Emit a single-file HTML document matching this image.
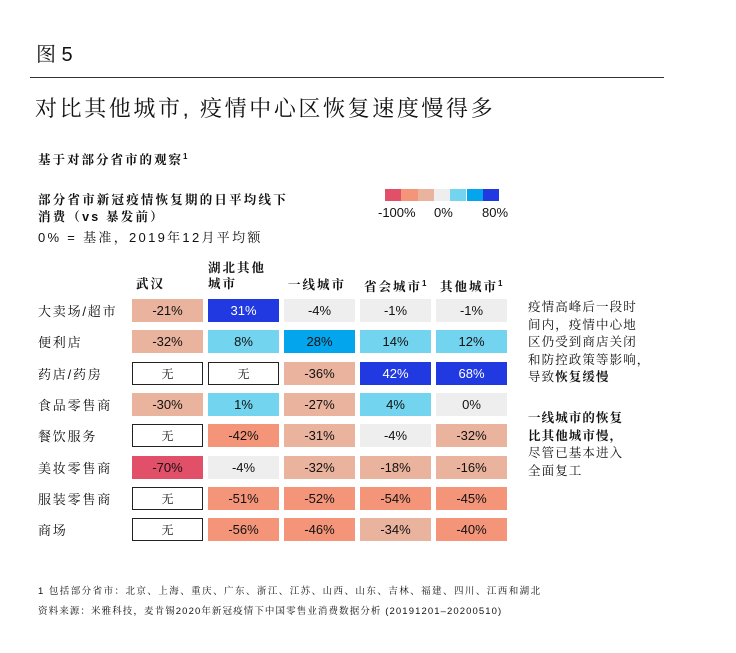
<!DOCTYPE html>
<html><head><meta charset="utf-8">
<style>
body{margin:0;background:#fff;width:736px;height:653px;position:relative;overflow:hidden;font-family:"Liberation Sans","Noto Serif CJK SC",serif;color:#111}
.a{position:absolute;white-space:nowrap}
.b{font-weight:bold}
.cell{position:absolute;width:71px;height:23px;line-height:23px;text-align:center;font-size:13px;font-family:"Liberation Sans","Noto Sans CJK SC",sans-serif}
.rl{position:absolute;font-size:13px;left:38px;letter-spacing:1.8px}
.ch{position:absolute;font-size:12.5px;font-weight:bold;line-height:16px;letter-spacing:2px}
.note{font-size:12.5px;line-height:17.5px;left:528px;letter-spacing:1.1px}
sup{font-size:8px;letter-spacing:0}
</style></head><body>
<div class="a" style="left:36px;top:38px;font-size:20px">图 5</div>
<div class="a" style="left:30px;top:77px;width:634px;height:1px;background:#333"></div>
<div class="a" style="left:35px;top:92px;font-size:22px;letter-spacing:2.6px">对比其他城市, 疫情中心区恢复速度慢得多</div>
<div class="a b" style="left:38px;top:150px;font-size:12.5px;letter-spacing:2px">基于对部分省市的观察<sup>1</sup></div>
<div class="a b" style="left:38px;top:192px;font-size:12.5px;line-height:17px;letter-spacing:2.2px">部分省市新冠疫情恢复期的日平均线下<br>消费（vs 暴发前）</div>
<div class="a" style="left:38px;top:227px;font-size:13px;letter-spacing:2.3px">0% = 基准，2019年12月平均额</div>
<div id="legend"></div>
<div class="a" style="left:378px;top:205px;font-size:13px">-100%</div>
<div class="a" style="left:434px;top:205px;font-size:13px">0%</div>
<div class="a" style="left:482px;top:205px;font-size:13px">80%</div>
<div id="grid"></div>
<div class="a note" style="top:299px">疫情高峰后一段时<br>间内，疫情中心地<br>区仍受到商店关闭<br>和防控政策等影响，<br>导致<b>恢复缓慢</b></div>
<div class="a note" style="top:410px"><b>一线城市的恢复<br>比其他城市慢，</b><br>尽管已基本进入<br>全面复工</div>
<div class="a" style="left:38px;top:583px;font-size:9.5px;letter-spacing:1.45px">1 包括部分省市：北京、上海、重庆、广东、浙江、江苏、山西、山东、吉林、福建、四川、江西和湖北</div>
<div class="a" style="left:38px;top:603px;font-size:9.5px;letter-spacing:1.1px">资料来源：米雅科技，麦肯锡2020年新冠疫情下中国零售业消费数据分析 (20191201–20200510)</div>
<script>
const columns=["武汉","湖北其他<br>城市","一线城市","省会城市<sup>1</sup>","其他城市<sup>1</sup>"];
const rows=["大卖场/超市","便利店","药店/药房","食品零售商","餐饮服务","美妆零售商","服装零售商","商场"];
const wuhan=[-21,-32,null,-30,null,-70,null,null];
const hubei=[31,8,null,1,-42,-4,-51,-56];
const tier1=[-4,28,-36,-27,-31,-32,-52,-46];
const capital=[-1,14,42,4,-4,-18,-54,-34];
const other=[-1,12,68,0,-32,-16,-45,-40];
const legendColors=["#e24f68","#f4957a","#e9b39d","#eeeeee","#73d4ef","#03a6ec","#2139e0"];
function color(v){if(v<=-60)return legendColors[0];if(v<=-40)return legendColors[1];if(v<=-10)return legendColors[2];if(v<=0)return legendColors[3];if(v<=20)return legendColors[4];if(v<=30)return legendColors[5];return legendColors[6];}
const lg=document.getElementById('legend');
legendColors.forEach((c,i)=>{const d=document.createElement('div');


d.style.cssText=`position:absolute;left:${385+i*16.3}px;top:189px;width:16.3px;height:12px;background:${c}`;lg.appendChild(d);});
const g=document.getElementById('grid');
const series=[wuhan,hubei,tier1,capital,other];
const x0=132,dx=76,y0=299,dy=31.3;
columns.forEach((c,j)=>{const h=document.createElement('div');h.className='ch';


h.style.left=(x0+dx*j+(j==1?0:4))+'px';h.style.top=(j==1?260:j==2?277:276)+'px';h.innerHTML=c;g.appendChild(h);});
rows.forEach((r,i)=>{const l=document.createElement('div');l.className='rl';


l.style.top=(y0+dy*i+2)+'px';l.textContent=r;g.appendChild(l);
series.forEach((s,j)=>{const v=s[i];const d=document.createElement('div');d.className='cell';


d.style.left=(x0+dx*j)+'px';d.style.top=(y0+dy*i)+'px';
if(v===null){d.style.border='1px solid #222';d.style.width='69px';d.style.height='21px';d.style.lineHeight='21px';d.style.fontFamily='"Noto Serif CJK SC",serif';d.style.fontSize='12px';d.textContent='无';}
else{d.style.background=color(v);d.textContent=v+'%';if(v>30)d.style.color='#fff';}
g.appendChild(d);});});
</script>
</body></html>
